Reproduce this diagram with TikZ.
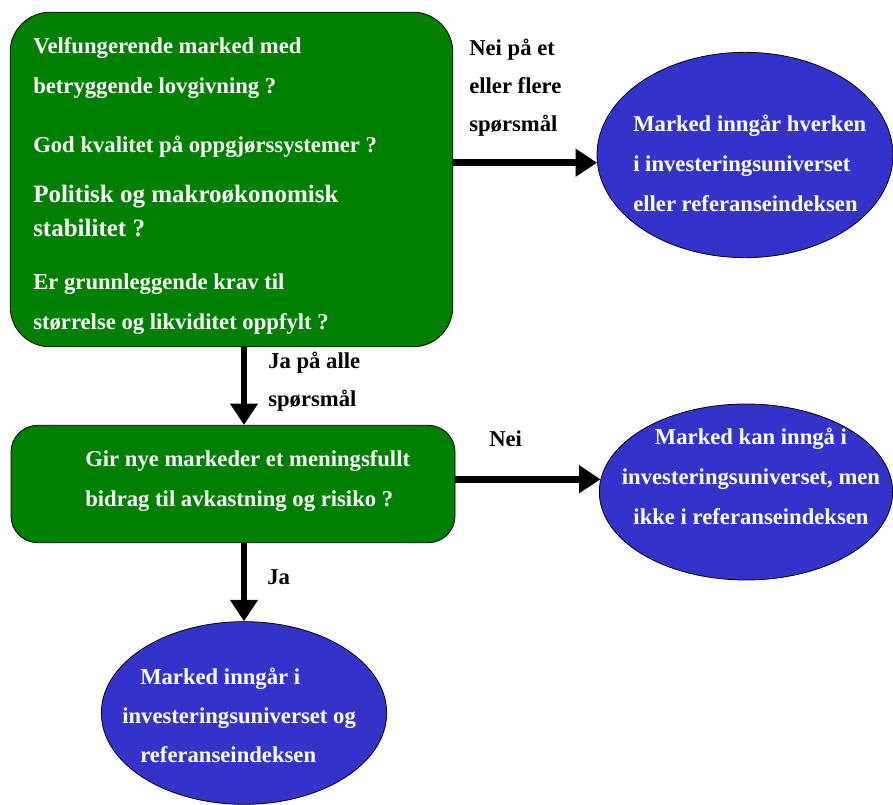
\documentclass[tikz,border=0pt]{standalone}
\usepackage{fontspec}
\setmainfont{Liberation Serif}
\usetikzlibrary{positioning,arrows.meta,shapes.geometric}
\definecolor{MarketGreen}{RGB}{0,128,0}
\definecolor{MarketBlue}{RGB}{51,51,204}
\tikzset{
  flow/.style={-{Triangle[length=16pt,width=20pt]},line width=5pt,draw=black},
  greenbox/.style={draw=black,line width=0.6pt,fill=MarketGreen,inner sep=0pt},
  bluebox/.style={ellipse,draw=black,line width=0.6pt,fill=MarketBlue,inner sep=0pt},
  qtext/.style={anchor=base west,inner sep=0pt,align=left,text=white,
    font=\fontsize{17}{30}\selectfont\bfseries},
  bigtext/.style={qtext,font=\fontsize{18.75}{25.5}\selectfont\bfseries},
  edgetext/.style={anchor=base west,inner sep=0pt,align=left,text=black,
    font=\fontsize{17}{28.5}\selectfont\bfseries}
}
\begin{document}
\begin{tikzpicture}[x=0.75pt,y=-0.75pt]
  \useasboundingbox (0,0) rectangle (893,805);
  % boxes and ellipses
  \node[greenbox,rounded corners=30pt,minimum width=332pt,minimum height=251pt] (check) at (231.5,179.5) {};
  \node[greenbox,rounded corners=20pt,minimum width=333pt,minimum height=88pt] (bidrag) at (233,484) {};
  \node[bluebox,minimum width=222pt,minimum height=154pt] (ingen) at (745,155) {};
  \node[bluebox,minimum width=220pt,minimum height=132pt] (univers) at (746,492) {};
  \node[bluebox,minimum width=214pt,minimum height=137pt] (begge) at (244,713) {};
  % questions (anchored on the last baseline)
  \node[qtext] (q1) at (33,94) {Velfungerende marked med\\betryggende lovgivning ?};
  \node[qtext] (q2) at (33,153) {God kvalitet på oppgjørssystemer ?};
  \node[bigtext] (q3) at (33,237) {Politisk og makroøkonomisk\\stabilitet ?};
  \node[qtext] (q4) at (33,330) {Er grunnleggende krav til\\størrelse og likviditet oppfylt ?};
  \node[qtext] (q5) at (85,507) {Gir nye markeder et meningsfullt\\bidrag til avkastning og risiko ?};
  % outcomes
  \node[qtext] (t1) at (633,212) {Marked inngår hverken\\i investeringsuniverset\\eller referanseindeksen};
  \node[qtext,anchor=base,align=center] (t2) at (751,525) {Marked kan inngå i\\investeringsuniverset, men\\ikke i referanseindeksen};
  \node[qtext,font=\fontsize{17}{29}\selectfont\bfseries] (t3) at (122,762) {\hspace*{13.5pt}Marked inngår i\\investeringsuniverset og\\\hspace*{13.5pt}referanseindeksen};
  % arrows
  \draw[flow] (check.east |- ingen.183) -- (ingen.183);
  \draw[flow] (bidrag.east |- univers.175) -- (univers.175);
  \draw[flow] (check.south -| begge.north) -- (bidrag.north -| begge.north);
  \draw[flow] (bidrag.south -| begge.north) -- (begge.north);
  % arrow labels
  \node[edgetext] (nei1) at (469,132) {Nei på et\\eller flere\\spørsmål};
  \node[edgetext] (ja1) at (268,407) {Ja på alle\\spørsmål};
  \node[edgetext] (nei2) at (489,447) {Nei};
  \node[edgetext] (ja2) at (267,585) {Ja};
\end{tikzpicture}
\end{document}
